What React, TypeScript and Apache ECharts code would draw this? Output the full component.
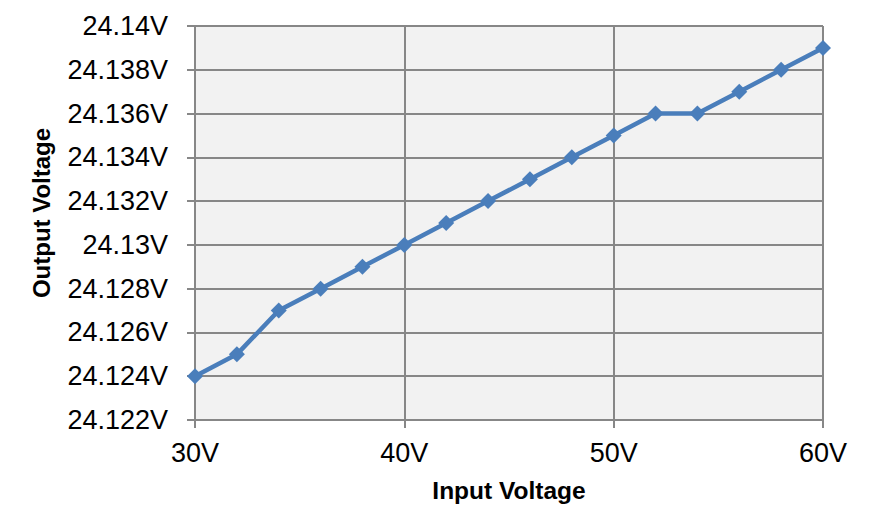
import React, { useEffect, useRef } from "react";
import * as echarts from "echarts";

const inputVoltage = [30, 32, 34, 36, 38, 40, 42, 44, 46, 48, 50, 52, 54, 56, 58, 60];
const outputVoltage = [
  24.124, 24.125, 24.127, 24.128, 24.129, 24.13, 24.131, 24.132, 24.133, 24.134, 24.135,
  24.136, 24.136, 24.137, 24.138, 24.139,
];
const xAxisTitle = "Input Voltage";
const yAxisTitle = "Output Voltage";

export default function App() {
  const ref = useRef<HTMLDivElement>(null);
  useEffect(() => {
    if (!ref.current) return;
    const chart = echarts.init(ref.current, undefined, { renderer: "svg" });
    const gray = "#878787";
    const font = "Liberation Sans, Arial, sans-serif";
    chart.setOption({
      animation: false,
      backgroundColor: "#ffffff",
      grid: {
        left: 195,
        right: 63,
        top: 26,
        bottom: 111,
        show: true,
        backgroundColor: "#f2f2f2",
        borderWidth: 0,
      },
      xAxis: {
        type: "value",
        min: 30,
        max: 60,
        interval: 10,
        name: xAxisTitle,
        nameLocation: "middle",
        nameGap: 58,
        nameTextStyle: { fontFamily: font, fontSize: 24.5, fontWeight: "bold", color: "#000" },
        axisLine: { show: true, lineStyle: { color: gray, width: 2 } },
        axisTick: { show: true, length: 8, lineStyle: { color: gray, width: 2 } },
        splitLine: { show: true, lineStyle: { color: gray, width: 2 } },
        axisLabel: {
          fontFamily: font,
          fontSize: 27,
          color: "#000",
          margin: 19,
          formatter: (v: number) => `${v}V`,
        },
      },
      yAxis: {
        type: "value",
        min: 24.122,
        max: 24.14,
        interval: 0.002,
        name: yAxisTitle,
        nameLocation: "middle",
        nameRotate: 90,
        nameGap: 142,
        nameTextStyle: {
          fontFamily: font,
          fontSize: 24,
          fontWeight: "bold",
          color: "#000",
          padding: [0, 0, 0, 20],
        },
        axisLine: { show: true, lineStyle: { color: gray, width: 2 } },
        axisTick: { show: true, length: 8, lineStyle: { color: gray, width: 2 } },
        splitLine: { show: true, lineStyle: { color: gray, width: 2 } },
        axisLabel: {
          fontFamily: font,
          fontSize: 27,
          color: "#000",
          margin: 27,
          formatter: (v: number) => `${parseFloat(v.toFixed(3))}V`,
        },
      },
      series: [
        {
          type: "line",
          data: inputVoltage.map((x, i) => [x, outputVoltage[i]]),
          symbol: "diamond",
          symbolSize: 16,
          lineStyle: { color: "#4a7ebb", width: 4.5 },
          itemStyle: { color: "#4a7ebb" },
        },
      ],
    });
    return () => chart.dispose();
  }, []);
  return (
    <div
      ref={ref}
      style={{ position: "fixed", left: 0, top: 0, width: 886, height: 531 }}
    />
  );
}
